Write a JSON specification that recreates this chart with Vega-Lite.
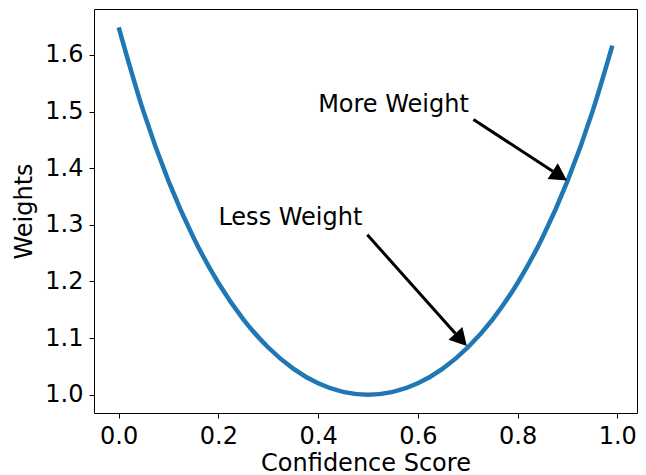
{
  "$schema": "https://vega.github.io/schema/vega-lite/v6.json",
  "width": 543,
  "height": 404,
  "autosize": {"type": "none"},
  "padding": {"left": 94, "top": 9, "right": 9, "bottom": 62},
  "background": "white",
  "config": {
    "view": {"stroke": "black", "strokeWidth": 1},
    "font": "DejaVu Sans",
    "axis": {
      "grid": false,
      "domain": false,
      "tickColor": "black",
      "tickSize": 5,
      "tickWidth": 1,
      "labelFont": "DejaVu Sans",
      "labelFontSize": 24,
      "labelColor": "black",
      "titleFont": "DejaVu Sans",
      "titleFontSize": 24,
      "titleFontWeight": "normal",
      "titleColor": "black"
    }
  },
  "datasets": {
    "curve": [
      {"x": 0.0, "y": 1.6487},
      {"x": 0.05, "y": 1.4993},
      {"x": 0.1, "y": 1.3771},
      {"x": 0.15, "y": 1.2776},
      {"x": 0.2, "y": 1.1972},
      {"x": 0.25, "y": 1.1331},
      {"x": 0.3, "y": 1.0833},
      {"x": 0.35, "y": 1.046},
      {"x": 0.4, "y": 1.0202},
      {"x": 0.45, "y": 1.005},
      {"x": 0.5, "y": 1.0},
      {"x": 0.55, "y": 1.005},
      {"x": 0.6, "y": 1.0202},
      {"x": 0.65, "y": 1.046},
      {"x": 0.7, "y": 1.0833},
      {"x": 0.75, "y": 1.1331},
      {"x": 0.8, "y": 1.1972},
      {"x": 0.85, "y": 1.2776},
      {"x": 0.9, "y": 1.3771},
      {"x": 0.95, "y": 1.4993},
      {"x": 0.99, "y": 1.6164}
    ]
  },
  "layer": [
    {
      "data": {"name": "curve"},
      "mark": {"type": "line", "color": "#1f77b4", "strokeWidth": 4.5, "interpolate": "monotone"},
      "encoding": {
        "x": {
          "field": "x", "type": "quantitative",
          "scale": {"domain": [-0.0495, 1.0395], "nice": false, "zero": false},
          "axis": {"values": [0, 0.2, 0.4, 0.6, 0.8, 1.0], "format": ".1f", "title": "Confidence Score", "labelPadding": 6, "titlePadding": 3}
        },
        "y": {
          "field": "y", "type": "quantitative",
          "scale": {"domain": [0.9676, 1.681], "nice": false, "zero": false},
          "axis": {"values": [1.0, 1.1, 1.2, 1.3, 1.4, 1.5, 1.6], "format": ".1f", "title": "Weights", "labelPadding": 6, "titlePadding": 8}
        }
      }
    },
    {
      "data": {"values": [
        {"label": "More Weight", "x": 0.4, "y": 1.5},
        {"label": "Less Weight", "x": 0.2, "y": 1.3}
      ]},
      "mark": {"type": "text", "align": "left", "baseline": "alphabetic", "fontSize": 24, "font": "DejaVu Sans", "color": "black"},
      "encoding": {
        "x": {"field": "x", "type": "quantitative"},
        "y": {"field": "y", "type": "quantitative"},
        "text": {"field": "label"}
      }
    },
    {
      "data": {"values": [
        {"x": 0.7115, "y": 1.4858, "x2": 0.8705, "y2": 1.3946},
        {"x": 0.4986, "y": 1.2823, "x2": 0.6753, "y2": 1.1082}
      ]},
      "mark": {"type": "rule", "color": "black", "strokeWidth": 3},
      "encoding": {
        "x": {"field": "x", "type": "quantitative"},
        "y": {"field": "y", "type": "quantitative"},
        "x2": {"field": "x2"},
        "y2": {"field": "y2"}
      }
    },
    {
      "data": {"values": [{"x": 0.899, "y": 1.3782}]},
      "mark": {"type": "point", "shape": "M0,0L-1,-0.55L-1,0.55Z", "size": 1156, "filled": true, "color": "black", "opacity": 1, "angle": 33.1},
      "encoding": {
        "x": {"field": "x", "type": "quantitative"},
        "y": {"field": "y", "type": "quantitative"}
      }
    },
    {
      "data": {"values": [{"x": 0.6982, "y": 1.0859}]},
      "mark": {"type": "point", "shape": "M0,0L-1,-0.55L-1,0.55Z", "size": 1156, "filled": true, "color": "black", "opacity": 1, "angle": 48},
      "encoding": {
        "x": {"field": "x", "type": "quantitative"},
        "y": {"field": "y", "type": "quantitative"}
      }
    }
  ]
}
